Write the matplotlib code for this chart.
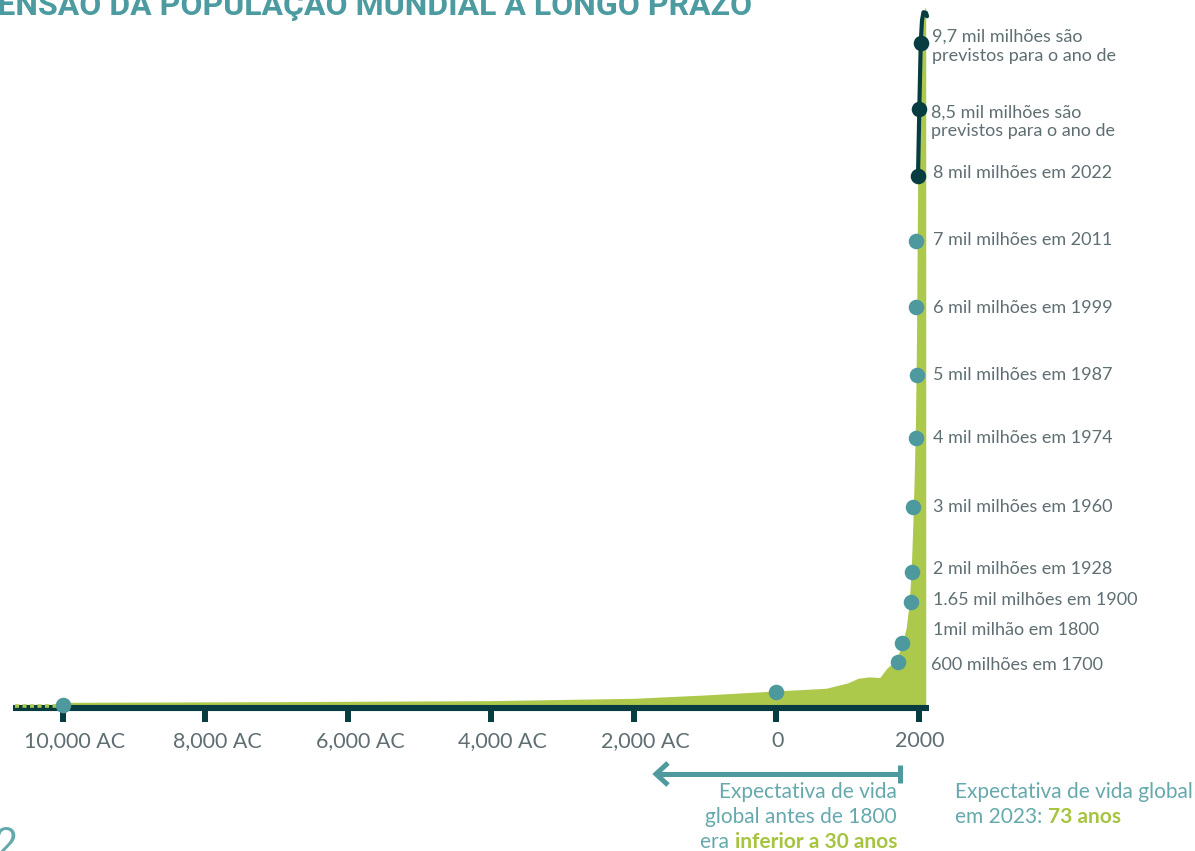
import matplotlib
matplotlib.use("Agg")
import matplotlib.pyplot as plt
from matplotlib.transforms import Affine2D

plt.rcParams['lines.scale_dashes'] = False

# ---------------- data ----------------
curve_year = [-10000, -7000, -5000, -4000, -2000, -1000, 0, 700, 1000, 1150, 1300, 1450,
              1550, 1650, 1750, 1820, 1860, 1890, 1910, 1930, 1950, 1965, 1975, 1985,
              2000, 2030, 2080, 2094]
curve_level = [0.04, 0.05, 0.06, 0.065, 0.10, 0.15, 0.21, 0.25, 0.33, 0.40, 0.42, 0.41,
               0.55, 0.64, 0.85, 1.15, 1.5, 2.0, 2.6, 3.3, 4.2, 5.5, 7.0, 8.3,
               9.2, 9.9, 10.4, 10.42]

dot_year = [-10000, 0, 1710, 1757, 1883, 1906, 1920, 1953, 1967, 1953, 1953, 1986, 2004, 2024]
dot_level = [0.0, 0.2, 0.64, 0.92, 1.54, 1.98, 2.96, 3.98, 4.93, 5.94, 6.92, 7.9, 8.89, 9.88]
dot_future = [False] * 11 + [True, True, True]

proj_year = [1986, 2004, 2024, 2042, 2063, 2098, 2112]
proj_level = [7.9, 8.89, 9.88, 10.22, 10.34, 10.33, 10.28]

labels = ["", "",
          "600 milhões em 1700",
          "1mil milhão em 1800",
          "1.65 mil milhões em 1900",
          "2 mil milhões em 1928",
          "3 mil milhões em 1960",
          "4 mil milhões em 1974",
          "5 mil milhões em 1987",
          "6 mil milhões em 1999",
          "7 mil milhões em 2011",
          "8 mil milhões em 2022",
          "8,5 mil milhões são\nprevistos para o ano de",
          "9,7 mil milhões são\nprevistos para o ano de"]

tick_years = [-10000, -8000, -6000, -4000, -2000, 0, 2000]
tick_labels = ["10,000 AC", "8,000 AC", "6,000 AC", "4,000 AC", "2,000 AC", "0", "2000"]

title = "DIMENSÃO DA POPULAÇÃO MUNDIAL A LONGO PRAZO"

# ---------------- style ----------------
LIME = "#adc94c"
TEAL = "#4e999e"
DARK = "#073c40"
GRAY = "#5f6e72"
TEAL_TXT = "#66a9ad"
LIME_TXT = "#a6c43f"
FONT = ["Lato", "DejaVu Sans"]

W, H = 1195, 851
fig = plt.figure(figsize=(W / 100, H / 100), dpi=100)
ax = fig.add_axes([0, 0, 1, 1])
ax.axis("off")

X0, KX = 776.3, 0.07136       # px of year 0, px per year
Y0, KY = 705.0, 67.0          # px of level 0, px per level
ax.set_xlim(-X0 / KX, (W - X0) / KX)
ax.set_ylim((Y0 - H) / KY, Y0 / KY)

def yr(px):
    return (px - X0) / KX

def lv(py):
    return (Y0 - py) / KY

# pixel transform (origin top-left) for annotation layout
PX = Affine2D().scale(1 / W, -1 / H).translate(0, 1) + fig.transFigure

# area
ax.fill_between(curve_year, curve_level, 0, color=LIME, lw=0, zorder=2)

# axis line
ax.plot([yr(13), yr(929)], [lv(708), lv(708)], color=DARK, lw=4.4,
        solid_capstyle="butt", zorder=3)
# dotted start
ax.plot([yr(15), yr(58)], [lv(706), lv(706)], color=LIME, lw=2.6,
        dashes=(2.9, 2.5), dash_capstyle="butt", zorder=4)
# ticks
ax.vlines(tick_years, lv(710), lv(722), color=DARK, lw=4.3, zorder=3)
for t, lab in zip(tick_years, tick_labels):
    off = 12 if "AC" in lab else 1
    ax.annotate(lab, (t, lv(741)), xytext=(off * 0.72, 0), textcoords="offset points",
                ha="center", va="center", fontsize=15.5, color=GRAY,
                family=FONT, fontweight="normal")

# projection line
ax.plot(proj_year, proj_level, color=DARK, lw=3.0, solid_capstyle="round",
        solid_joinstyle="round", zorder=5)

# dots
for x, y, fut in zip(dot_year, dot_level, dot_future):
    ax.plot(x, y, "o", ms=11.2, color=DARK if fut else TEAL, mec="none", zorder=6)

# labels
label_dy = [0, 0, 3, -13, -2, -3, 0, 0, 0, 1, -1, -3, 12.5, 3]
label_x = [0, 0, 931, 933, 933, 933, 933, 933, 933, 933, 933, 933, 931, 932]
for y, lab, dy, lx in zip(dot_level, labels, label_dy, label_x):
    if not lab:
        continue
    ax.text(lx, (Y0 - KY * y) + dy, lab, transform=PX, ha="left", va="center",
            fontsize=13, color=GRAY, family=FONT, fontweight="normal",
            linespacing=1.25)

# title (clipped by the page edge)
fig.text(752 / W, 1 - 15 / H, title, ha="right", va="baseline", fontsize=23,
         color="#4b9ba0", family=["Liberation Sans Narrow", "Roboto", "DejaVu Sans"],
         fontweight="bold")

# page number fragment
fig.text(-6 / W, 1 - 858 / H, "2", ha="left", va="baseline", fontsize=30,
         color=TEAL_TXT, family=FONT, fontweight="normal")

# arrow
ax.plot([657, 900], [774, 774], color="#4e9a9f", lw=3.6, transform=PX,
        solid_capstyle="butt", zorder=5)
ax.plot([900, 900], [765, 783], color="#4e9a9f", lw=3.6, transform=PX,
        solid_capstyle="butt", zorder=5)
ax.plot([668, 656, 668], [763, 774, 785], color="#4e9a9f", lw=3.6, transform=PX,
        solid_capstyle="butt", solid_joinstyle="miter", zorder=5)

# bottom texts
FS = 15
tk = dict(transform=PX, fontsize=FS, family=FONT, fontweight="normal", va="center")
ax.text(897, 792, "Expectativa de vida", ha="right", color=TEAL_TXT, **tk)
ax.text(897, 817, "global antes de 1800", ha="right", color=TEAL_TXT, **tk)
t1 = ax.text(897, 842, "inferior a 30 anos", ha="right", color=LIME_TXT,
             transform=PX, fontsize=FS, family=FONT, fontweight="bold", va="center")
ax.annotate("era ", xy=(0, 0.5), xycoords=t1, ha="right", va="center",
            fontsize=FS, family=FONT, fontweight="normal", color=TEAL_TXT)

ax.text(955, 792, "Expectativa de vida global", ha="left", color=TEAL_TXT, **tk)
t2 = ax.text(955, 817, "em 2023: ", ha="left", color=TEAL_TXT, **tk)
ax.annotate("73 anos", xy=(1, 0.5), xycoords=t2, ha="left", va="center",
            fontsize=FS, family=FONT, fontweight="bold", color=LIME_TXT)

fig.savefig("out.png", dpi=100)
